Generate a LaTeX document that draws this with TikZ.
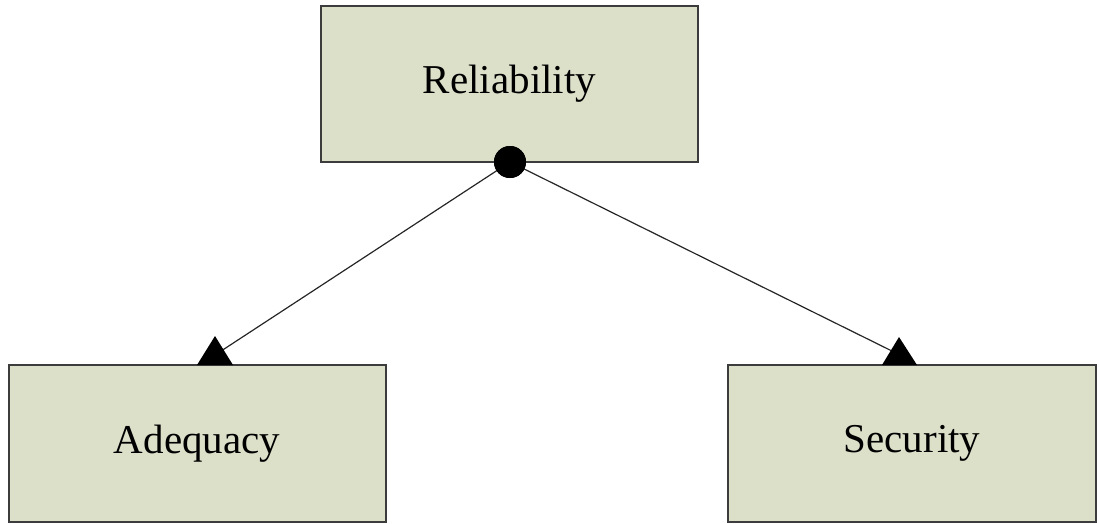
\documentclass[tikz,border=0pt]{standalone}
\usepackage{fontspec}
\setmainfont{Liberation Serif}
\definecolor{boxfill}{RGB}{220,224,201}
\definecolor{boxline}{RGB}{60,60,60}
\begin{document}
\begin{tikzpicture}[x=1pt,y=-1pt,
  box/.style={draw=boxline,line width=2pt,fill=boxfill,rectangle,inner sep=0pt,
    font=\fontsize{41}{48}\selectfont},
  link/.style={line width=1.2pt,draw=black!85},
  tip/.style={fill=black}]
\useasboundingbox (0,0) rectangle (1099,523);
\node[box,minimum width=377pt,minimum height=156pt] (rel) at (509.5,84) {Reliability};
\node[box,minimum width=377pt,minimum height=157pt] (ade) at (197,443.5) {Adequacy};
\node[box,minimum width=368pt,minimum height=157pt] (sec) at (912,443.5) {Security};
\coordinate (ta) at (215,355);
\coordinate (ts) at (900,355);
\node[circle,fill=black,minimum size=32pt,inner sep=0pt] (dot) at (510,162) {};
\draw[link] (dot.center) -- (ta);
\draw[link] (dot.center) -- (ts);
\fill[tip] (215,336) -- (233,365) -- (197,365) -- cycle;
\fill[tip] (899,337) -- (917,365) -- (882,365) -- cycle;
\node[circle,fill=black,minimum size=32pt,inner sep=0pt] at (dot) {};
\end{tikzpicture}
\end{document}
